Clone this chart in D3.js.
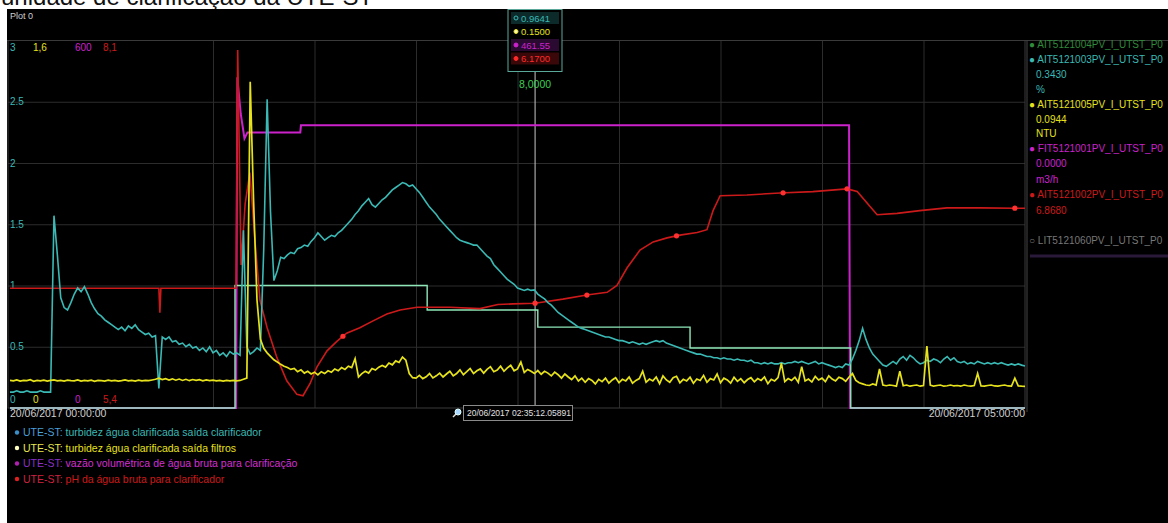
<!DOCTYPE html>
<html>
<head>
<meta charset="utf-8">
<script src="https://cdn.jsdelivr.net/npm/d3@7"></script>
<style>
  body { margin: 0; background: #fff; }
  svg { display: block; }
</style>
</head>
<body>
<svg id="chart" width="1168" height="523"></svg>
<script>
// ---- data ---------------------------------------------------------------
const pageTitle = "unidade de clarificação da UTE-ST";

// turbidez água clarificada saída clarificador, one value per minute from 00:00
const tealValues = [
  0.13,0.13,0.14,0.13,0.13,0.14,0.13,0.13,0.13,0.14,
  0.13,0.13,0.13,1.57,1.25,0.90,0.82,0.80,0.86,0.93,
  0.98,0.95,0.99,0.93,0.86,0.81,0.77,0.75,0.72,0.70,
  0.68,0.66,0.64,0.66,0.63,0.67,0.65,0.68,0.64,0.62,
  0.60,0.61,0.58,0.59,0.16,0.58,0.56,0.58,0.54,0.55,
  0.52,0.53,0.50,0.52,0.49,0.50,0.47,0.49,0.46,0.50,
  0.45,0.47,0.43,0.45,0.42,0.46,0.44,0.45,0.43,1.45,
  0.50,0.44,0.46,0.49,0.47,1.30,2.52,1.60,1.04,1.12,
  1.23,1.22,1.25,1.27,1.26,1.30,1.31,1.33,1.32,1.36,
  1.39,1.43,1.40,1.37,1.39,1.41,1.40,1.43,1.45,1.48,
  1.51,1.54,1.58,1.61,1.65,1.68,1.71,1.66,1.64,1.67,
  1.70,1.72,1.75,1.78,1.80,1.82,1.84,1.83,1.81,1.82,
  1.79,1.76,1.72,1.68,1.64,1.61,1.58,1.54,1.51,1.48,
  1.45,1.42,1.39,1.37,1.36,1.35,1.34,1.33,1.33,1.30,
  1.27,1.24,1.22,1.17,1.14,1.11,1.08,1.05,1.03,1.01,
  0.98,0.97,0.96,0.97,0.96,0.9641,0.93,0.91,0.89,0.86,
  0.84,0.81,0.78,0.76,0.74,0.72,0.70,0.68,0.66,0.65,
  0.64,0.63,0.62,0.61,0.60,0.59,0.58,0.58,0.57,0.56,
  0.55,0.55,0.54,0.53,0.54,0.53,0.52,0.53,0.52,0.53,
  0.54,0.55,0.54,0.55,0.53,0.52,0.51,0.50,0.49,0.48,
  0.47,0.46,0.45,0.44,0.44,0.43,0.42,0.42,0.41,0.41,
  0.40,0.41,0.40,0.40,0.39,0.40,0.39,0.39,0.38,0.39,
  0.37,0.37,0.36,0.37,0.36,0.37,0.36,0.36,0.37,0.36,
  0.37,0.37,0.38,0.37,0.38,0.37,0.36,0.37,0.38,0.36,
  0.37,0.36,0.35,0.34,0.33,0.34,0.33,0.36,0.35,0.40,
  0.47,0.55,0.65,0.56,0.49,0.44,0.41,0.38,0.35,0.34,
  0.36,0.38,0.36,0.40,0.42,0.39,0.43,0.41,0.38,0.36,
  0.37,0.39,0.38,0.40,0.39,0.37,0.40,0.42,0.39,0.41,
  0.38,0.37,0.38,0.36,0.37,0.36,0.38,0.37,0.36,0.37,
  0.36,0.37,0.36,0.37,0.36,0.35,0.36,0.35,0.36,0.35,
  0.343
];

// turbidez água clarificada saída filtros, one value per minute from 00:00
const yellowValues = [
  0.120,0.118,0.122,0.117,0.120,0.119,0.123,0.116,0.120,0.118,
  0.121,0.117,0.120,0.122,0.118,0.120,0.117,0.121,0.119,0.118,
  0.122,0.117,0.120,0.118,0.121,0.116,0.120,0.119,0.117,0.121,
  0.118,0.120,0.117,0.119,0.122,0.118,0.120,0.117,0.121,0.118,
  0.120,0.119,0.122,0.125,0.130,0.124,0.128,0.122,0.127,0.121,
  0.126,0.120,0.125,0.119,0.124,0.120,0.123,0.118,0.122,0.119,
  0.121,0.118,0.120,0.117,0.120,0.118,0.120,0.118,0.120,0.125,
  0.130,1.420,0.900,0.470,0.300,0.260,0.240,0.225,0.210,0.200,
  0.190,0.182,0.176,0.168,0.172,0.158,0.166,0.152,0.160,0.148,
  0.156,0.144,0.158,0.150,0.162,0.156,0.170,0.162,0.176,0.168,
  0.182,0.176,0.215,0.135,0.150,0.160,0.152,0.172,0.165,0.178,
  0.185,0.178,0.196,0.188,0.205,0.198,0.222,0.208,0.150,0.132,
  0.130,0.142,0.128,0.136,0.150,0.131,0.140,0.152,0.135,0.148,
  0.160,0.140,0.150,0.166,0.145,0.158,0.172,0.150,0.162,0.170,
  0.152,0.168,0.180,0.158,0.165,0.182,0.160,0.175,0.186,0.162,
  0.170,0.200,0.155,0.168,0.160,0.150,0.163,0.147,0.160,0.152,
  0.140,0.156,0.145,0.130,0.148,0.135,0.124,0.140,0.118,0.130,
  0.112,0.128,0.120,0.105,0.125,0.115,0.130,0.108,0.122,0.132,
  0.110,0.125,0.118,0.135,0.108,0.120,0.128,0.160,0.112,0.126,
  0.118,0.135,0.106,0.140,0.122,0.112,0.132,0.138,0.110,0.125,
  0.118,0.134,0.108,0.126,0.120,0.142,0.112,0.128,0.122,0.148,
  0.110,0.130,0.122,0.108,0.134,0.116,0.128,0.110,0.124,0.132,
  0.114,0.128,0.120,0.135,0.106,0.125,0.118,0.132,0.195,0.115,
  0.128,0.120,0.134,0.112,0.180,0.118,0.126,0.113,0.138,0.122,
  0.130,0.115,0.140,0.126,0.118,0.134,0.128,0.116,0.135,0.150,
  0.120,0.110,0.105,0.100,0.098,0.105,0.100,0.170,0.100,0.097,
  0.100,0.098,0.095,0.160,0.097,0.100,0.095,0.098,0.100,0.095,
  0.098,0.270,0.100,0.095,0.098,0.100,0.095,0.097,0.100,0.096,
  0.098,0.095,0.100,0.097,0.095,0.098,0.150,0.096,0.095,0.098,
  0.100,0.096,0.095,0.098,0.100,0.096,0.095,0.130,0.096,0.095,
  0.0944
];

// vazão volumétrica de água bruta para clarificação: [minute, m3/h]
const magentaPoints = [
  [0, 0], [66.8, 0], [67.2, 540], [68.2, 480], [69.3, 440], [70.2, 450],
  [85.8, 450], [86.0, 461.55], [248.0, 461.55], [248.3, 0], [300, 0]
];

// pH da água bruta para clarificador: [minute, pH]
const redPoints = [
  [0, 6.28], [44.0, 6.28], [44.3, 6.10], [44.6, 6.28], [66.8, 6.28], [67.3, 8.03],
  [68.3, 6.45], [69.5, 6.90], [70.9, 7.13], [72.4, 6.63], [73.9, 6.19], [76.0, 5.99],
  [78.9, 5.77], [81.8, 5.60], [84.8, 5.50], [86.6, 5.49], [88.7, 5.58], [90.7, 5.70],
  [93.7, 5.82], [96.6, 5.89], [99.5, 5.95], [103.4, 5.99], [107.3, 6.04], [111.4, 6.09],
  [115.3, 6.12], [120.3, 6.14], [130.0, 6.14], [138.9, 6.13], [144.2, 6.16], [148.7, 6.165],
  [155.2, 6.17], [163.4, 6.20], [170.5, 6.23], [176.5, 6.25], [179.4, 6.30], [182.4, 6.43],
  [186.2, 6.56], [190.1, 6.62], [194.2, 6.65], [198.0, 6.67], [203.1, 6.69], [206.0, 6.71],
  [207.8, 6.85], [209.9, 6.96], [217.8, 6.965], [227.6, 6.98], [237.3, 6.99], [247.4, 7.01],
  [250.4, 6.99], [254.2, 6.88], [256.3, 6.82], [262.2, 6.83], [268.9, 6.85], [276.9, 6.87],
  [286.7, 6.87], [297.0, 6.868], [300, 6.868]
];
const redMarkerTimes = [98.4, 155.2, 170.5, 197.0, 228.5, 247.4, 297.0];

// AIT5121004 step series: [minute, value] (held until next point)
const stepPoints = [[0, 0], [66.5, 10], [123.3, 8], [156.0, 6.6], [201.0, 4.9], [248.5, 0], [300, 0]];

// axis ticks and labels
const tealTicks = [0.5, 1, 1.5, 2, 2.5];
const gridMinutes = [60, 90, 120, 150, 180, 210, 240, 270];
const timeStartLabel = "20/06/2017 00:00:00";
const timeEndLabel = "20/06/2017 05:00:00";
const cursorMinute = 155.2;
const cursorLabel = "20/06/2017 02:35:12.05891";

const legendNames = [
  "UTE-ST: turbidez água clarificada saída clarificador",
  "UTE-ST: turbidez água clarificada saída filtros",
  "UTE-ST: vazão volumétrica de água bruta para clarificação",
  "UTE-ST: pH da água bruta para clarificador"
];
const tagNames = ["AIT5121004PV_I_UTST_P0", "AIT5121003PV_I_UTST_P0", "AIT5121005PV_I_UTST_P0",
                  "FIT5121001PV_I_UTST_P0", "AIT5121002PV_I_UTST_P0", "LIT5121060PV_I_UTST_P0"];
const units = ["%", "NTU", "m3/h"];

// ---- drawing ------------------------------------------------------------
const W = 1168, H = 523;
const FONT = "Liberation Sans, Arial, sans-serif";
const C = {
  teal: "#3ab9b5", yellow: "#e6e21c", magenta: "#cc22cc", red: "#cc1a1a",
  step: "#8ee8b8", grid: "#2c2c2c", frame: "#3a3a3a", cursor: "#c8c8c8", text: "#d0d0d0"
};

const svg = d3.select("#chart");
svg.append("rect").attr("width", W).attr("height", H).attr("fill", "#fff");
svg.append("text").attr("x", 1).attr("y", 5).attr("font-family", FONT)
  .attr("font-size", 24).attr("fill", "#111").text(pageTitle);
svg.append("rect").attr("x", 7).attr("y", 9).attr("width", W - 7).attr("height", H - 9).attr("fill", "#000");

svg.append("text").attr("x", 10).attr("y", 18.5).attr("font-family", FONT).attr("font-size", 9)
  .attr("fill", C.text).text("Plot 0");

const X0 = 8, X1 = 1025, YB = 408, YT = 40.5;
const x = d3.scaleLinear().domain([0, 300]).range([10, X1]);
const yTeal = d3.scaleLinear().domain([0, 3]).range([YB, YT]);
const yYellow = d3.scaleLinear().domain([0, 1.6]).range([YB, YT]);
const yMag = d3.scaleLinear().domain([0, 600]).range([YB, YT]);
const yRed = d3.scaleLinear().domain([5.4, 8.1]).range([YB, YT]);
const yStep = d3.scaleLinear().domain([0, 30]).range([YB, YT]);

const plot = svg.append("g");

// horizontal grid
plot.append("g").attr("transform", `translate(${X0},0)`)
  .call(d3.axisRight(yTeal).tickValues(tealTicks).tickSize(X1 - X0).tickFormat(""))
  .call(s => { s.select(".domain").remove(); s.selectAll("line").attr("stroke", C.grid); });
// vertical grid
plot.append("g").attr("transform", `translate(0,${YB})`)
  .call(d3.axisBottom(x).tickValues(gridMinutes).tickSize(-(YB - YT)).tickFormat(""))
  .call(s => { s.select(".domain").remove(); s.selectAll("line").attr("stroke", C.grid); });

// frame
plot.append("rect").attr("x", X0).attr("y", YT).attr("width", X1 - X0).attr("height", YB - YT)
  .attr("fill", "none").attr("stroke", C.frame);
svg.append("line").attr("x1", 7).attr("x2", W).attr("y1", YT).attr("y2", YT).attr("stroke", C.frame);
svg.append("line").attr("x1", 1027).attr("x2", 1027).attr("y1", YT).attr("y2", 412).attr("stroke", "#444");

// teal value labels inside the plot
plot.append("g").attr("transform", `translate(${X0},0)`)
  .call(d3.axisRight(yTeal).tickValues(tealTicks).tickSize(0).tickPadding(2).tickFormat(d3.format("")))
  .call(s => {
    s.select(".domain").remove();
    s.selectAll("text").attr("fill", C.teal).attr("font-family", FONT).attr("font-size", 10);
  });

// top / bottom range labels of each series scale
const rangeLabels = [
  { scale: yTeal, color: C.teal, x: 10, fmt: d => String(d) },
  { scale: yYellow, color: C.yellow, x: 33, fmt: d => String(d).replace(".", ",") },
  { scale: yMag, color: C.magenta, x: 75, fmt: d => String(d) },
  { scale: yRed, color: C.red, x: 103, fmt: d => String(d).replace(".", ",") }
];
rangeLabels.forEach(r => {
  const [lo, hi] = r.scale.domain();
  plot.append("text").attr("x", r.x).attr("y", r.scale(hi) + 10.5).attr("fill", r.color)
    .attr("font-family", FONT).attr("font-size", 10).text(r.fmt(hi));
  plot.append("text").attr("x", r.x).attr("y", r.scale(lo) - 5).attr("fill", r.color)
    .attr("font-family", FONT).attr("font-size", 10).text(r.fmt(lo));
});

// cursor line
const cx = x(cursorMinute);
plot.append("line").attr("x1", cx).attr("x2", cx).attr("y1", 9).attr("y2", YB).attr("stroke", C.cursor).attr("stroke-width", 1);

// series
const lineOf = ys => d3.line().x(d => x(d[0])).y(d => ys(d[1]));
plot.append("path").datum(magentaPoints).attr("d", lineOf(yMag))
  .attr("fill", "none").attr("stroke", C.magenta).attr("stroke-width", 2);
plot.append("path").datum(stepPoints)
  .attr("d", lineOf(yStep).curve(d3.curveStepAfter))
  .attr("fill", "none").attr("stroke", C.step).attr("stroke-width", 1.4);
plot.append("path").datum(redPoints).attr("d", lineOf(yRed))
  .attr("fill", "none").attr("stroke", C.red).attr("stroke-width", 1.6);

const interp = (pts, t) => {
  const i = d3.bisector(d => d[0]).left(pts, t);
  if (i <= 0) return pts[0][1];
  if (i >= pts.length) return pts[pts.length - 1][1];
  const a = pts[i - 1], b = pts[i];
  return a[1] + (b[1] - a[1]) * (t - a[0]) / (b[0] - a[0]);
};
plot.selectAll("circle.redmark").data(redMarkerTimes).join("circle").attr("class", "redmark")
  .attr("cx", d => x(d)).attr("cy", d => yRed(interp(redPoints, d))).attr("r", 2.6).attr("fill", "#ff3030");

plot.append("path").datum(tealValues.map((v, i) => [i, v])).attr("d", lineOf(yTeal))
  .attr("fill", "none").attr("stroke", C.teal).attr("stroke-width", 1.6);
plot.append("path").datum(yellowValues.map((v, i) => [i, v])).attr("d", lineOf(yYellow))
  .attr("fill", "none").attr("stroke", C.yellow).attr("stroke-width", 1.7);

// cursor readout box
const ci = Math.floor(cursorMinute);
const stepAt = t => { let v = stepPoints[0][1]; stepPoints.forEach(p => { if (p[0] <= t) v = p[1]; }); return v; };
const cursorRows = [
  { v: tealValues[ci].toFixed(4), color: C.teal, bg: "#0c2a2a", hollow: true },
  { v: yellowValues[ci].toFixed(4), color: C.yellow, bg: "none" },
  { v: interp(magentaPoints, cursorMinute).toFixed(2), color: C.magenta, bg: "#2a0a30" },
  { v: interp(redPoints, cursorMinute).toFixed(4), color: "#ff2a2a", bg: "#3a0808" }
];
svg.append("rect").attr("x", 508).attr("y", 9.5).attr("width", 54).attr("height", 62)
  .attr("fill", "#000").attr("stroke", "#5aa89a");
cursorRows.forEach((r, i) => {
  const yy = 18 + i * 13.5;
  if (r.bg !== "none") svg.append("rect").attr("x", 511).attr("y", yy - 6).attr("width", 48).attr("height", 12).attr("fill", r.bg);
  svg.append("circle").attr("cx", 516).attr("cy", yy).attr("r", 2)
    .attr("fill", r.hollow ? "none" : (i === 1 ? "#fff8c0" : r.color)).attr("stroke", r.color);
  svg.append("text").attr("x", 521).attr("y", yy + 3.5).attr("fill", r.color)
    .attr("font-family", FONT).attr("font-size", 9.5).text(r.v);
});
svg.append("text").attr("x", 519).attr("y", 88).attr("fill", "#3ccf50").attr("font-family", FONT)
  .attr("font-size", 10.5).text(stepAt(cursorMinute).toFixed(4).replace(".", ","));

// time labels
svg.append("text").attr("x", 10).attr("y", 417).attr("fill", C.text).attr("font-family", FONT)
  .attr("font-size", 10.5).text(timeStartLabel);
svg.append("text").attr("x", X1).attr("y", 417).attr("text-anchor", "end").attr("fill", C.text)
  .attr("font-family", FONT).attr("font-size", 10.5).text(timeEndLabel);
svg.append("rect").attr("x", 463.5).attr("y", 405.5).attr("width", 109).attr("height", 15)
  .attr("fill", "#000").attr("stroke", "#8a8a8a");
svg.append("text").attr("x", 467).attr("y", 416).attr("fill", "#e0e0e0").attr("font-family", FONT)
  .attr("font-size", 8.5).text(cursorLabel);
svg.append("circle").attr("cx", 458).attr("cy", 412).attr("r", 3).attr("fill", "#a8d8ff").attr("stroke", "#dff");
svg.append("line").attr("x1", 456).attr("y1", 414).attr("x2", 453).attr("y2", 417).attr("stroke", "#ddd").attr("stroke-width", 1.5);

// bottom legend
const legendColors = [
  { pre: "#4a9fd8", txt: C.teal, dot: "#3a8fc8" },
  { pre: "#e8e850", txt: C.yellow, dot: "#ffffc0" },
  { pre: "#8a30c8", txt: "#d030d0", dot: "#b020b0" },
  { pre: "#d02040", txt: C.red, dot: "#e02020" }
];
legendNames.forEach((name, i) => {
  const yy = 436 + i * 15.5;
  const c = legendColors[i];
  svg.append("circle").attr("cx", 17).attr("cy", yy - 3.5).attr("r", 2.2).attr("fill", c.dot);
  const [pre, ...rest] = name.split(" ");
  const t = svg.append("text").attr("x", 23).attr("y", yy).attr("font-family", FONT).attr("font-size", 10.5);
  t.append("tspan").attr("fill", c.pre).text(pre + " ");
  t.append("tspan").attr("fill", c.txt).text(rest.join(" "));
});

// right legend: tag, current value, unit
const lastOf = a => a[a.length - 1];
const rightRows = [
  { y: 48, t: "● " + tagNames[0], c: "#2f8a3a" },
  { y: 63, t: "● " + tagNames[1], c: C.teal },
  { y: 78, t: lastOf(tealValues).toFixed(4), c: C.teal, indent: true },
  { y: 93, t: units[0], c: C.teal, indent: true },
  { y: 108, t: "● " + tagNames[2], c: C.yellow },
  { y: 123, t: lastOf(yellowValues).toFixed(4), c: C.yellow, indent: true },
  { y: 137, t: units[1], c: C.yellow, indent: true },
  { y: 152, t: "● " + tagNames[3], c: C.magenta },
  { y: 167, t: lastOf(magentaPoints)[1].toFixed(4), c: C.magenta, indent: true },
  { y: 183, t: units[2], c: C.magenta, indent: true },
  { y: 198, t: "● " + tagNames[4], c: C.red },
  { y: 214, t: lastOf(redPoints)[1].toFixed(4), c: C.red, indent: true },
  { y: 244, t: "○ " + tagNames[5], c: "#777" }
];
rightRows.forEach(r => {
  svg.append("text").attr("x", r.indent ? 1036 : 1029).attr("y", r.y).attr("fill", r.c)
    .attr("font-family", FONT).attr("font-size", 10).text(r.t);
});
svg.append("line").attr("x1", 1030).attr("x2", W).attr("y1", 256).attr("y2", 256)
  .attr("stroke", "#2a1a3a").attr("stroke-width", 3);
</script>
</body>
</html>
